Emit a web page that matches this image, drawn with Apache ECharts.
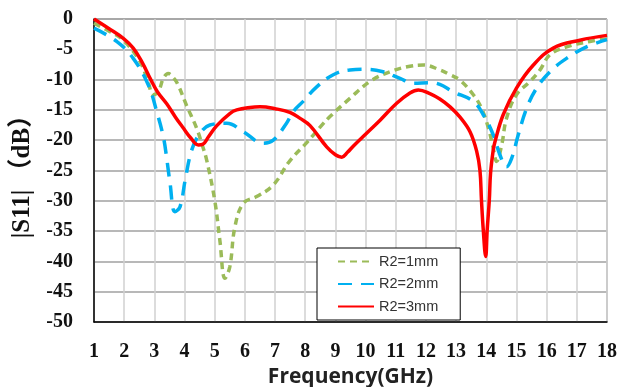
<!DOCTYPE html>
<html>
<head>
<meta charset="utf-8">
<script src="https://cdn.jsdelivr.net/npm/echarts@6/dist/echarts.min.js"></script>
<style>
html,body{margin:0;padding:0;background:#fff;}
#c{width:630px;height:387px;}
</style>
</head>
<body>
<div id="c"></div>
<script>
// Series names
const seriesNames = ['R2=1mm', 'R2=2mm', 'R2=3mm'];

// R2=1mm (green dashed)
const freq1 = [1.0,1.5,1.97,2.52,2.8,2.96,3.13,3.3,3.46,3.65,3.79,4.07,4.4,4.6,4.73,5.0,5.17,5.34,5.5,5.67,5.95,6.39,6.94,7.49,8.05,8.5,8.82,9.48,10.15,10.81,11.47,11.91,12.46,12.8,13.13,13.57,13.84,14.07,14.23,14.34,14.51,14.67,15.0,15.45,15.78,16.11,16.66,17.43,18.0];
const s11_1 = [-0.7,-2.0,-3.5,-7.0,-10.5,-12.5,-12.0,-9.8,-9.0,-9.8,-10.9,-14.3,-18.0,-21.0,-23.2,-29.9,-36.5,-42.8,-40.9,-34.3,-30.4,-29.3,-27.4,-23.4,-20.4,-17.8,-16.1,-13.1,-10.3,-8.7,-7.8,-7.6,-8.4,-9.2,-10.1,-12.5,-14.7,-18.0,-21.3,-23.5,-20.8,-16.4,-12.5,-10.3,-8.4,-5.9,-4.6,-3.7,-3.3];

// R2=2mm (blue long dash)
const freq2 = [1.0,1.75,2.3,2.8,3.08,3.3,3.41,3.52,3.68,3.85,4.02,4.24,4.51,4.84,5.4,5.95,6.61,6.94,7.38,7.6,7.93,8.38,8.93,9.48,10.03,10.58,11.14,11.58,12.13,12.46,12.9,13.57,13.9,14.23,14.45,14.67,14.84,15.06,15.34,15.67,16.11,16.66,17.32,18.0];
const s11_2 = [-1.5,-3.7,-6.5,-10.9,-15.3,-19.5,-23.0,-27.1,-31.8,-31.0,-26.6,-21.6,-18.9,-17.5,-17.2,-18.6,-20.5,-20.0,-17.2,-15.3,-13.6,-11.2,-9.2,-8.4,-8.3,-8.7,-9.8,-10.6,-10.5,-10.8,-12.0,-13.6,-15.8,-19.1,-22.4,-24.4,-23.0,-19.1,-14.7,-11.4,-8.7,-6.5,-4.6,-3.4];

// R2=3mm (red solid)
const freq3 = [1.0,1.5,1.97,2.3,2.6,2.86,3.1,3.41,3.7,3.96,4.2,4.46,4.6,4.8,5.07,5.5,5.73,6.17,6.5,7.0,7.49,7.83,8.16,8.71,9.0,9.21,9.4,9.59,9.92,10.48,11.03,11.47,11.75,12.13,12.46,12.8,13.13,13.46,13.68,13.79,13.84,13.9,13.98,14.03,14.1,14.14,14.23,14.29,14.56,15.0,15.56,16.22,17.1,18.0];
const s11_3 = [0,-1.6,-3.2,-4.8,-7.2,-9.8,-12.0,-14.0,-16.2,-18.0,-19.6,-20.8,-20.7,-19.4,-17.6,-15.6,-15.0,-14.6,-14.5,-14.8,-15.4,-16.4,-17.6,-21.1,-22.4,-22.8,-22.0,-21.0,-19.4,-16.7,-13.9,-12.2,-11.7,-12.3,-13.2,-14.5,-16.2,-18.6,-21.8,-25.0,-29.9,-34.8,-39.2,-34.8,-29.9,-25.5,-21.6,-20.2,-15.8,-11.4,-7.6,-4.8,-3.5,-2.7];

// Axis ticks
const xMin = 1, xMax = 18, xStep = 1;
const yMin = -50, yMax = 0, yStep = 5;

function pairs(xs, ys){ return xs.map((x,i)=>[x, ys[i]]); }

const chart = echarts.init(document.getElementById('c'), null, {renderer:'canvas'});
const serif = "'Liberation Serif','Times New Roman',serif";
chart.setOption({
  animation: false,
  backgroundColor: '#fff',
  grid: {left: 94, top: 19, right: 23, bottom: 65, show: true, borderColor: '#808080', borderWidth: 1,
         containLabel: false, outerBoundsMode: 'none'},
  legend: {
    orient: 'vertical', left: 317, top: 248,
    backgroundColor: '#fff', borderColor: '#000', borderWidth: 1,
    padding: [6, 22, 6, 20], itemWidth: 36, itemHeight: 14, itemGap: 7.5,
    itemStyle: {opacity: 0},
    textStyle: {fontFamily: "'Liberation Sans', Arial, sans-serif", fontSize: 14.5, color: '#333'},
    data: seriesNames
  },
  xAxis: {
    type: 'value', min: xMin, max: xMax, interval: xStep,
    name: 'Frequency(GHz)', nameLocation: 'middle', nameGap: 40,
    nameTextStyle: {fontFamily: "'Open Sans','Liberation Sans',sans-serif", fontWeight: 'bold', fontSize: 21, color: '#222'},
    axisLine: {show: true, onZero: false, lineStyle: {color: '#000', width: 1.5}},
    axisTick: {show: false},
    axisLabel: {fontFamily: serif, fontWeight: 'bold', fontSize: 20, color: '#111', margin: 20},
    splitLine: {show: true, lineStyle: {color: '#d0d0d0', width: 1.5}}
  },
  yAxis: {
    type: 'value', min: yMin, max: yMax, interval: yStep,
    name: '|S11| （dB）', nameLocation: 'middle', nameGap: 49, nameRotate: 90,
    nameTextStyle: {fontFamily: "'Liberation Serif','Noto Sans CJK SC',serif", fontWeight: 'bold', fontSize: 25, color: '#111'},
    axisLine: {show: true, onZero: false, lineStyle: {color: '#000', width: 1.5}},
    axisTick: {show: false},
    axisLabel: {fontFamily: serif, fontWeight: 'bold', fontSize: 20, color: '#111', margin: 21},
    splitLine: {show: true, lineStyle: {color: '#a0a0a0', width: 1.5}}
  },
  series: [
    {name: seriesNames[0], type: 'line', data: pairs(freq1, s11_1), showSymbol: false, symbol: 'none',
     smooth: 0.4, z: 3,
     lineStyle: {color: '#9BBB59', width: 3.5, type: [7, 5]}, itemStyle: {color: '#9BBB59'}},
    {name: seriesNames[1], type: 'line', data: pairs(freq2, s11_2), showSymbol: false, symbol: 'none',
     smooth: 0.4, z: 4,
     lineStyle: {color: '#00B0F0', width: 3.5, type: [14, 9]}, itemStyle: {color: '#00B0F0'}},
    {name: seriesNames[2], type: 'line', data: pairs(freq3, s11_3), showSymbol: false, symbol: 'none',
     smooth: 0.4, z: 5,
     lineStyle: {color: '#FF0000', width: 3.5}, itemStyle: {color: '#FF0000'}}
  ]
});
</script>
</body>
</html>
